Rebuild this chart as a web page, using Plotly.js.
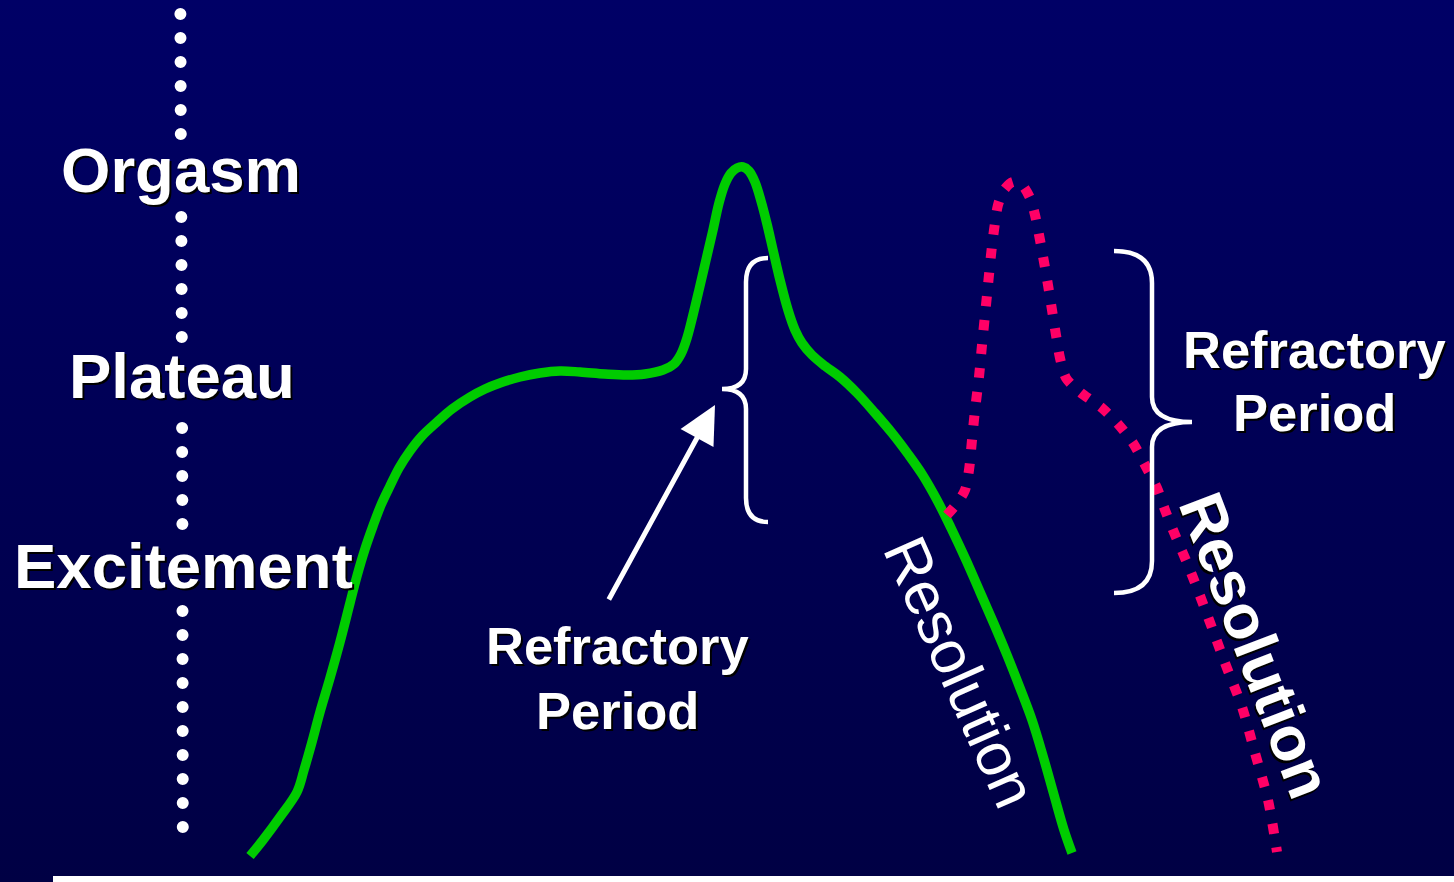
<!DOCTYPE html>
<html><head><meta charset="utf-8">
<script src="https://cdn.plot.ly/plotly-3.0.1.min.js"></script>
<style>
html,body{margin:0;padding:0;width:1454px;height:882px;overflow:hidden;background:#000055;}
#chart{width:1454px;height:882px;background:linear-gradient(180deg,#000066 0%,#000044 100%);}
.tracedots path.js-line{stroke-linecap:round;}
</style></head><body><div id="chart"></div>
<script>
// Green response curve (screen-space units)
const greenX = [250,263,280,297,304,312,320,330,340,350,357,365,373,381,390,399,410,422,437,452,470,485,500,520,540,560,580,605,627,645,663,674,681,687,693,699,706,713,719,725,731,737,743,749,755,761,767,773,780,788,795,802,812,825,840,857,875,892,908,922,937,951,966,980,994,1007,1020,1032,1043,1054,1064,1072];
const greenY = [856,840,817,792,770,742,712,678,642,603,576,549,526,505,486,468,451,436,422,409,397,389,383,377,373,371,372,374,375,374,370,364,354,338,315,290,260,230,203,184,173,168,167,171,182,201,224,250,280,310,330,343,355,366,377,393,413,433,454,474,500,528,560,592,624,655,688,720,756,795,830,853];
// Pink dotted second-orgasm curve
const pinkX = [947,958,965,969,972,975,979,982,985,988,991,994,998,1004,1013,1022,1030,1035,1040,1044,1048,1052,1056,1060,1066,1080,1102,1118,1133,1145,1157,1165,1173,1190,1208,1225,1242,1255,1268,1277];
const pinkY = [515,502,490,470,440,410,377,345,315,285,255,230,205,190,182,185,198,215,240,262,285,310,335,358,378,392,408,424,443,465,488,510,530,570,617,663,707,753,800,852];
// Dotted stage axis (segments broken by the stage labels)
const axisX = [180.4,180.8,null,181.3,181.8,null,182.1,182.4,null,182.5,182.8];
const axisY = [14,135,null,217,338,null,428,525,null,611,828];
// Stage labels
const stageLabels = ['Orgasm','Plateau','Excitement'];
const stageX = [180.5,181.5,183.5];
const stageY = [170,376,566];
// Other texts
const refractoryLines = ['Refractory','Period'];
const refrLeftX = [617,617], refrLeftY = [645,710];
const refrRightX = [1314,1314], refrRightY = [349,412];
const resolutionText = 'Resolution';
const resLeft = {x:960, y:672, angle:66};
const resRight = {x:1256, y:645, angle:69};
// Arrow (tail -> head)
const arrowTail = [608,601], arrowHead = [715,405];
// Braces: [xEnd, xMid, xTip, yTop, yTip, yBot, cornerR, tipR]
const braceLeft = [768,746,722,258,389,522,24,20];
const braceRight = [1114,1152,1192,251,422,593,32,25];
// Baseline [x0, x1, y]
const baseline = [53,1454,879];

const FONT = 'Liberation Sans, Arial, Helvetica, sans-serif';
const SHADOW = '2px 2px 0px #000';

function bracePath(b){
  const [xE,xM,xT,yT,yP,yB,rc,rt]=b;
  return `M${xE},${yT} Q${xM},${yT} ${xM},${yT+rc} L${xM},${yP-rt} Q${xM},${yP} ${xT},${yP} `+
         `Q${xM},${yP} ${xM},${yP+rt} L${xM},${yB-rc} Q${xM},${yB} ${xE},${yB}`;
}

const traces = [
  {x:axisX, y:axisY, uid:'dots', mode:'lines', connectgaps:false, hoverinfo:'skip',
   line:{color:'#ffffff', width:12, dash:'0px,24px'}},
  {x:greenX, y:greenY, mode:'lines', hoverinfo:'skip',
   line:{color:'#00cc00', width:9.5, shape:'spline', smoothing:1}},
  {x:pinkX, y:pinkY, mode:'lines', hoverinfo:'skip',
   line:{color:'#ff0066', width:10, shape:'spline', smoothing:0.8, dash:'10px,14px'}}
];

const annotations = [];
stageLabels.forEach((t,i)=>annotations.push({x:stageX[i], y:stageY[i], xref:'x', yref:'y', text:t, showarrow:false,
  xanchor:'center', yanchor:'middle', font:{family:FONT, size:63.5, color:'#ffffff', weight:700, shadow:SHADOW}}));
refractoryLines.forEach((t,i)=>{
  annotations.push({x:refrLeftX[i], y:refrLeftY[i], xref:'x', yref:'y', text:t, showarrow:false,
    xanchor:'center', yanchor:'middle', font:{family:FONT, size:52.5, color:'#ffffff', weight:700, shadow:SHADOW}});
  annotations.push({x:refrRightX[i], y:refrRightY[i], xref:'x', yref:'y', text:t, showarrow:false,
    xanchor:'center', yanchor:'middle', font:{family:FONT, size:52.5, color:'#ffffff', weight:700, shadow:SHADOW}});
});
annotations.push({x:resLeft.x, y:resLeft.y, xref:'x', yref:'y', text:resolutionText, showarrow:false, textangle:resLeft.angle,
  xanchor:'center', yanchor:'middle', font:{family:FONT, size:61, color:'#ffffff'}});
annotations.push({x:resRight.x, y:resRight.y, xref:'x', yref:'y', text:resolutionText, showarrow:false, textangle:resRight.angle,
  xanchor:'center', yanchor:'middle', font:{family:FONT, size:62, color:'#ffffff', weight:700, shadow:SHADOW}});
annotations.push({x:arrowHead[0], y:arrowHead[1], xref:'x', yref:'y', ax:arrowTail[0], ay:arrowTail[1], axref:'x', ayref:'y',
  text:'', showarrow:true, arrowhead:2, arrowsize:1.5, arrowwidth:5, arrowcolor:'#ffffff', standoff:0});

const shapes = [
  {type:'path', xref:'x', yref:'y', path:bracePath(braceLeft), line:{color:'#ffffff', width:4.5}},
  {type:'path', xref:'x', yref:'y', path:bracePath(braceRight), line:{color:'#ffffff', width:4.5}},
  {type:'line', xref:'x', yref:'y', x0:baseline[0], x1:baseline[1], y0:baseline[2], y1:baseline[2], line:{color:'#ffffff', width:6}}
];

const layout = {
  width:1454, height:882, margin:{l:0,r:0,t:0,b:0},
  paper_bgcolor:'rgba(0,0,0,0)', plot_bgcolor:'rgba(0,0,0,0)',
  showlegend:false,
  xaxis:{range:[0,1454], visible:false, fixedrange:true},
  yaxis:{range:[882,0], visible:false, fixedrange:true},
  annotations, shapes
};
Plotly.newPlot('chart', traces, layout, {staticPlot:true, displayModeBar:false}).then(()=>{
  document.querySelectorAll('.tracedots path.js-line').forEach(p=>p.style.strokeLinecap='round');
});
</script></body></html>
